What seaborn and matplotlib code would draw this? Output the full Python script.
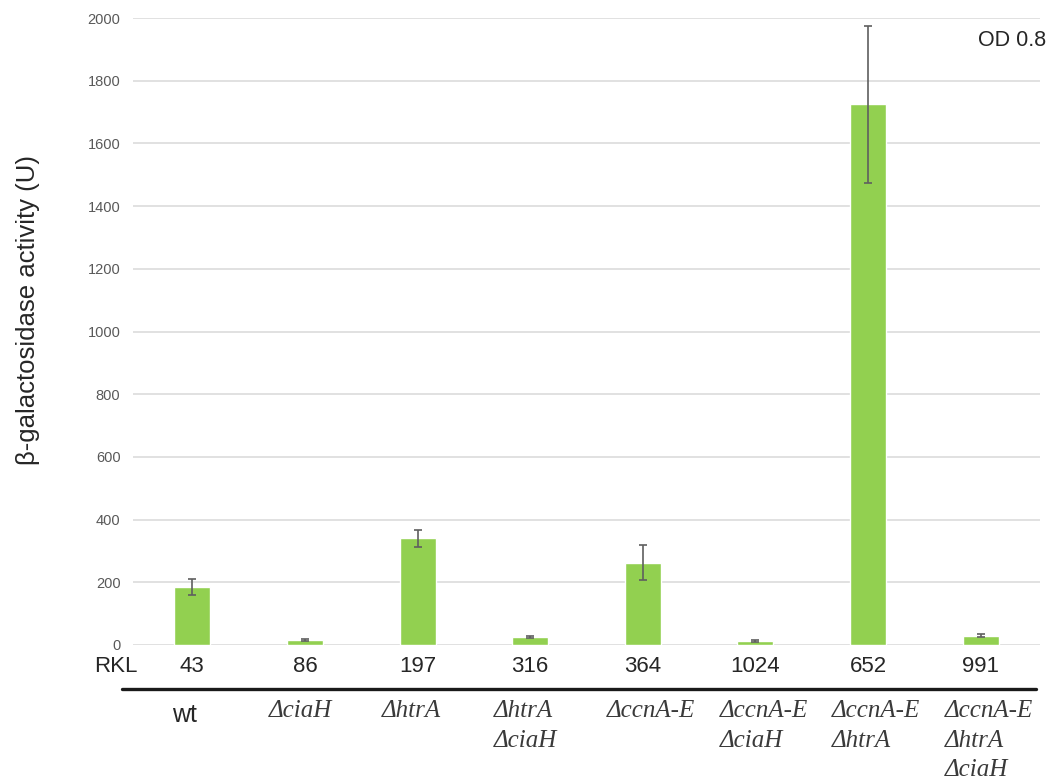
import matplotlib
matplotlib.use("Agg")
import matplotlib.pyplot as plt
from matplotlib.transforms import blended_transform_factory
import seaborn as sns
import pandas as pd

# Strain numbers (RKL), genotypes and measured beta-galactosidase activity
strains = ["43", "86", "197", "316", "364", "1024", "652", "991"]
genotypes = ["wt", "ΔciaH", "ΔhtrA", "ΔhtrA\nΔciaH", "ΔccnA-E",
             "ΔccnA-E\nΔciaH", "ΔccnA-E\nΔhtrA", "ΔccnA-E\nΔhtrA\nΔciaH"]
activity = [185, 16, 340, 26, 263, 12, 1725, 30]
errors = [27, 4, 28, 3, 56, 3, 250, 5]

df = pd.DataFrame({"strain": strains, "activity": activity})

sns.set_theme(style="white")
plt.rcParams["font.family"] = ["Liberation Sans", "DejaVu Sans"]

W, H = 1054, 781
fig = plt.figure(figsize=(W / 100, H / 100), dpi=100)
ax = fig.add_axes([133 / W, 1 - 645 / H, (1040 - 133) / W, (645 - 18) / H])

sns.barplot(data=df, x="strain", y="activity", order=strains,
            color="#92D050", saturation=1, width=0.32, ax=ax, zorder=3)
ax.errorbar(range(len(strains)), activity, yerr=errors, fmt="none",
            ecolor="#5f5f5f", elinewidth=1.2, capsize=3, capthick=1.2, zorder=4)

ax.set_ylim(0, 2000)
ax.set_yticks(range(0, 2001, 200))
ax.yaxis.grid(True, color="#d9d9d9", linewidth=1.1, zorder=0)
ax.set_axisbelow(True)
for s in ax.spines.values():
    s.set_visible(False)
ax.tick_params(axis="y", length=0, pad=9, labelsize=10.5, labelcolor="#595959")
ax.tick_params(axis="x", length=0, pad=8, labelsize=16, labelcolor="#262626")
ax.set_xlabel("")
ax.set_ylabel("")

fig.text(28 / W, 1 - 310 / H, "β-galactosidase activity (U)", rotation=90,
         ha="center", va="center", fontsize=18.5, color="#262626")
fig.text(1012 / W, 1 - 40 / H, "OD 0.8", ha="center", va="center",
         fontsize=15.5, color="#262626")
fig.text(116 / W, 1 - 667 / H, "RKL", ha="center", va="center",
         fontsize=16, color="#262626")

# Underline separating strain numbers from genotypes
fig.add_artist(plt.Line2D([122 / W, 1036 / W], [1 - 689 / H, 1 - 689 / H],
                          color="#1a1a1a", linewidth=2.4))

trans = blended_transform_factory(ax.transData, fig.transFigure)
for i, g in enumerate(genotypes):
    if g == "wt":
        ax.text(i - 0.07, 1 - 703 / H, g, transform=trans, ha="center", va="top",
                fontsize=18, color="#262626")
    else:
        ax.text(i - 0.32, 1 - 700 / H, g, transform=trans, ha="left", va="top",
                multialignment="left", linespacing=1.45,
                fontsize=18, style="italic", color="#3a3a3a",
                family=["Liberation Serif", "DejaVu Serif"])

fig.savefig("out.png", dpi=100, facecolor="white")
